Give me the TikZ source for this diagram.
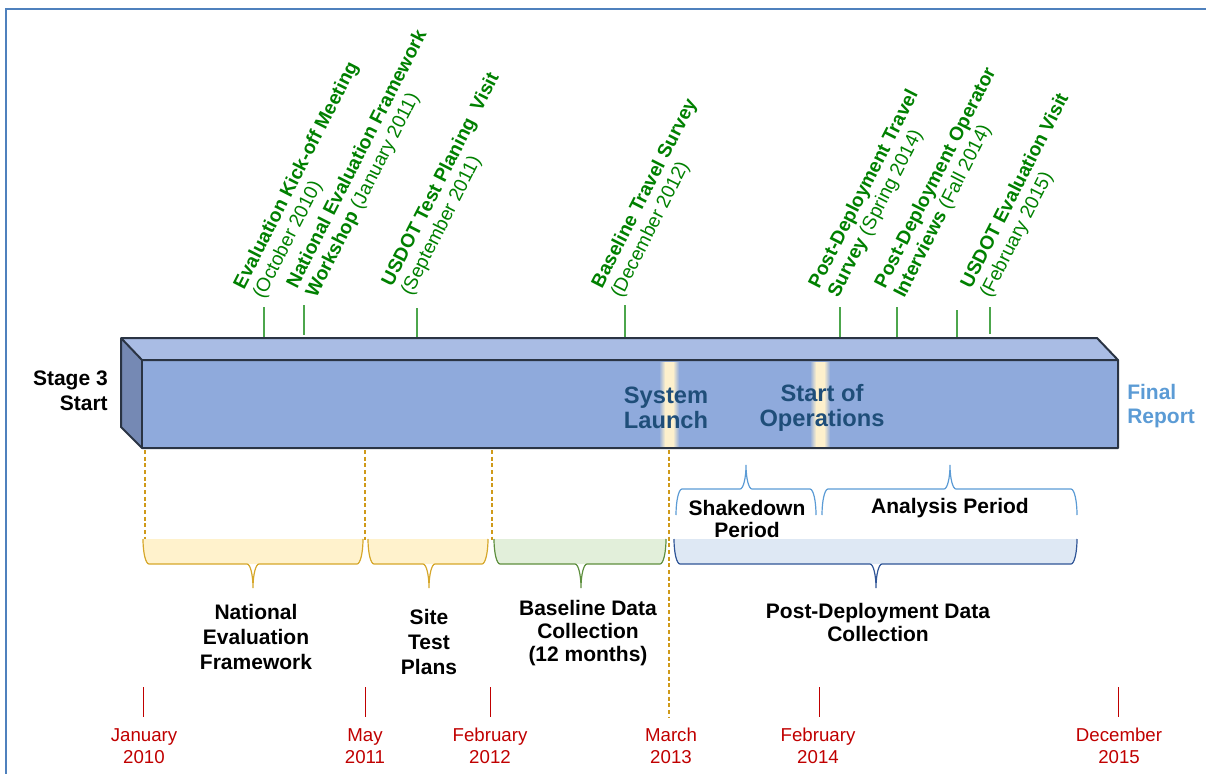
\documentclass[tikz,border=0pt]{standalone}
\usepackage{fontspec}
\setmainfont{Liberation Sans}
\definecolor{framec}{HTML}{4F81BD}
\definecolor{boxfront}{HTML}{8FAADC}
\definecolor{boxtop}{HTML}{A9BCE4}
\definecolor{boxside}{HTML}{7589B4}
\definecolor{boxline}{HTML}{2A3444}
\definecolor{glowc}{HTML}{FDF0CC}
\definecolor{tgreen}{HTML}{008000}
\definecolor{tickgreen}{HTML}{4CA64C}
\definecolor{dred}{HTML}{C00000}
\definecolor{dashc}{HTML}{CF9A1A}
\definecolor{ybrline}{HTML}{D6A72A}
\definecolor{ybrfill}{HTML}{FFF2CC}
\definecolor{gbrline}{HTML}{5E8F3E}
\definecolor{gbrfill}{HTML}{E2EFDA}
\definecolor{bbrline}{HTML}{2F5597}
\definecolor{bbrfill}{HTML}{DEE8F4}
\definecolor{ubrline}{HTML}{5B9BD5}
\definecolor{launchc}{HTML}{1F4E79}
\definecolor{finalc}{HTML}{5B9BD5}
% brace fill: xl, xr, ytop, ymid, style
\newcommand{\bracefillpart}[5]{\fill[#5] (#1,#3) .. controls (#1,{#3+0.552*(#4-#3)}) and ({#1+2.7},#4) .. ({#1+6},#4) -- ({#2-6},#4) .. controls ({#2-2.7},#4) and (#2,{#3+0.552*(#4-#3)}) .. (#2,#3) -- cycle;}
% brace outline: xl, xr, xm, ytop, ymid, ytip, style
\newcommand{\braceline}[7]{\draw[#7] (#1,#4) .. controls (#1,{#4+0.552*(#5-#4)}) and ({#1+2.7},#5) .. ({#1+6},#5) -- ({#3-6},#5) .. controls ({#3-2.7},#5) and (#3,{#6-0.552*(#6-#5)}) .. (#3,#6) .. controls (#3,{#6-0.552*(#6-#5)}) and ({#3+2.7},#5) .. ({#3+6},#5) -- ({#2-6},#5) .. controls ({#2-2.7},#5) and (#2,{#4+0.552*(#5-#4)}) .. (#2,#4);}
% glow stripe: xcenter
\newcommand{\glowstripe}[1]{%
  \shade[left color=boxfront, right color=glowc] ({#1-10},362) rectangle ({#1-4},447);
  \fill[glowc] ({#1-4},362) rectangle ({#1+4},447);
  \shade[left color=glowc, right color=boxfront] ({#1+4},362) rectangle ({#1+10},447);}
\begin{document}
\begin{tikzpicture}[x=0.75pt,y=-0.75pt,
  bigtxt/.style={font=\bfseries\fontsize{15.75}{18.75}\selectfont, inner sep=0pt, align=center},
  boxtxt/.style={font=\bfseries\fontsize{17.75}{18.5}\selectfont, inner sep=0pt, align=center, text=launchc},
  glabel/.style={rotate=63, anchor=south west, align=left, text=tgreen, inner sep=0pt, font=\fontsize{14.4}{16.2}\selectfont},
  datetxt/.style={font=\fontsize{14}{16.5}\selectfont, text=dred, inner sep=0pt, align=center},
  gtick/.style={draw=tickgreen, line width=1pt},
  rtick/.style={draw=dred, line width=0.7pt},
  dashline/.style={draw=dashc, line width=1pt, dash pattern=on 3pt off 2pt},
  bfill/.style={line width=0.9pt}]
\useasboundingbox (0,0) rectangle (1206,774);
% frame
\draw[framec, line width=1.5pt] (6,774) -- (6,9) -- (1206,9);

% green rotated labels
\node[glabel] (l1) at (267,302) {\textbf{Evaluation Kick-off Meeting}\\(October 2010)};
\node[glabel] (l2) at (320,301) {\textbf{National Evaluation Framework}\\\textbf{Workshop} (January 2011)};
\node[glabel] (l3) at (415,299) {\textbf{USDOT Test Planing~ Visit}\\(September 2011)};
\node[glabel] (l4) at (625,301) {\textbf{Baseline Travel Survey}\\(December 2012)};
\node[glabel] (l5) at (842,301) {\textbf{Post-Deployment Travel}\\\textbf{Survey} (Spring 2014)};
\node[glabel] (l6) at (908,301) {\textbf{Post-Deployment Operator}\\\textbf{Interviews} (Fall 2014)};
\node[glabel] (l7) at (994,301) {\textbf{USDOT Evaluation Visit}\\(February 2015)};

% green ticks
\foreach \x/\a/\b in {264/307/338, 304/305/335, 417/308/338, 625/305/338, 840/307/338, 897/307/338, 957/310/338, 990/307/334}
  \draw[gtick] (\x,\a) -- (\x,\b);

% box
\fill[boxtop] (121,338) -- (1097,338) -- (1118,360) -- (142,360) -- cycle;
\fill[boxside] (121,338) -- (142,360) -- (142,448) -- (121,427) -- cycle;
\fill[boxfront] (142,360) rectangle (1118,448);
\glowstripe{669}
\glowstripe{820}
\draw[boxline, line width=1.5pt, line join=round] (121,338) -- (1097,338) -- (1118,360) -- (1118,448) -- (142,448) -- (121,427) -- cycle;
\draw[boxline, line width=1.5pt, line join=round] (121,338) -- (142,360) -- (1118,360);
\draw[boxline, line width=1.5pt] (142,360) -- (142,448);

% box texts
\node[boxtxt] (launch) at (666,408) {System\\Launch};
\node[boxtxt] (startops) at (822,408) {Start of\\Operations};
\node[bigtxt, align=right, anchor=east] (stage) at (108,391) {Stage 3\\Start};
\node[bigtxt, align=left, anchor=west, text=finalc, font=\bfseries\fontsize{15.75}{18}\selectfont] (final) at (1127,406) {Final\\Report};

% dashed lines
\draw[dashline] (145,450) -- (145,540);
\draw[dashline] (365,450) -- (365,540);
\draw[dashline] (492,450) -- (492,540);
\draw[dashline] (669,450) -- (669,717);

% lower braces
\bracefillpart{143}{363}{539}{564}{ybrfill}
\braceline{143}{363}{253}{539}{564}{588}{draw=ybrline, bfill}
\bracefillpart{368}{488}{539}{564}{ybrfill}
\braceline{368}{488}{429}{539}{564}{588}{draw=ybrline, bfill}
\bracefillpart{494}{666}{539}{564}{gbrfill}
\braceline{494}{666}{581}{539}{564}{588}{draw=gbrline, bfill}
\bracefillpart{674}{1077}{539}{564}{bbrfill}
\braceline{674}{1077}{876}{539}{564}{588}{draw=bbrline, bfill}
% upper braces
\braceline{676}{816}{746}{515}{489}{465}{draw=ubrline, bfill}
\braceline{822}{1077}{950}{515}{489}{465}{draw=ubrline, bfill}

% brace labels
\node[bigtxt] (nef) at (256,637) {National\\Evaluation\\Framework};
\node[bigtxt, font=\bfseries\fontsize{15.75}{19.1}\selectfont] (stp) at (429,642) {Site\\Test\\Plans};
\node[bigtxt, font=\bfseries\fontsize{15.75}{17.25}\selectfont] (bdc) at (588,633) {Baseline Data\\Collection\\(12 months)};
\node[bigtxt, font=\bfseries\fontsize{15.75}{17.25}\selectfont] (pdc) at (878,622) {Post-Deployment Data\\Collection};
\node[bigtxt, font=\bfseries\fontsize{15.75}{16.5}\selectfont] (shk) at (747,519) {Shakedown\\Period};
\node[bigtxt] (ana) at (950,508) {Analysis Period};

% red ticks
\foreach \x in {143,365,490,819,1118}
  \draw[rtick] (\x,687) -- (\x,717);

% dates
\node[datetxt] (d1) at (144,746) {January\\2010};
\node[datetxt] (d2) at (365,746) {May\\2011};
\node[datetxt] (d3) at (490,746) {February\\2012};
\node[datetxt] (d4) at (671,746) {March\\2013};
\node[datetxt] (d5) at (818,746) {February\\2014};
\node[datetxt] (d6) at (1119,746) {December\\2015};
\end{tikzpicture}
\end{document}
